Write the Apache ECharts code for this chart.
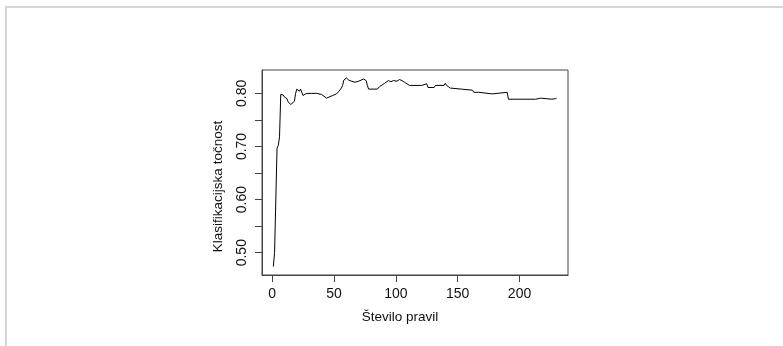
<!DOCTYPE html>
<html>
<head>
<meta charset="utf-8">
<script src="https://cdn.jsdelivr.net/npm/echarts@6.0.0/dist/echarts.min.js"></script>
<style>
  html, body { margin: 0; padding: 0; background: #fff; }
  #chart { width: 783px; height: 346px; }
</style>
</head>
<body>
<div id="chart"></div>
<script>
// Number of rules in the model
const ruleCounts = [
  1, 2, 3, 4, 5, 6, 7, 8, 9, 10, 12, 13, 15, 16, 18, 19, 20, 21, 22, 23, 24, 25, 26, 27, 29,
  32, 36, 40, 41, 44, 45, 46, 47, 49, 52, 54, 56, 57, 58, 60, 62, 64, 67, 70, 72, 74, 76, 77,
  78, 85, 87, 89, 91, 94, 96, 98, 101, 103, 105, 107, 109, 111, 121, 122, 125, 126, 131, 132,
  139, 140, 141, 142, 144, 145, 153, 154, 162, 163, 167, 168, 178, 179, 190, 191, 213, 214,
  217, 218, 226, 227, 229, 230
];
// Classification accuracy for each rule count
const accuracy = [
  0.474, 0.500, 0.501, 0.697, 0.702, 0.718, 0.798, 0.797, 0.797, 0.793, 0.790, 0.784, 0.779,
  0.778, 0.785, 0.800, 0.808, 0.805, 0.804, 0.808, 0.805, 0.796, 0.793, 0.799, 0.800,
  0.800, 0.800, 0.798, 0.796, 0.791, 0.789, 0.793, 0.795, 0.796, 0.799, 0.804, 0.810, 0.815,
  0.825, 0.829, 0.825, 0.823, 0.821, 0.823, 0.825, 0.827, 0.824, 0.815,
  0.808, 0.808, 0.813, 0.816, 0.819, 0.824, 0.822, 0.824, 0.823, 0.826, 0.824, 0.821, 0.818,
  0.815, 0.815, 0.818, 0.818, 0.811, 0.811, 0.815,
  0.815, 0.819, 0.815, 0.813, 0.810, 0.808, 0.808, 0.806, 0.806, 0.802, 0.802, 0.799, 0.799,
  0.802, 0.802, 0.789, 0.789, 0.791,
  0.791, 0.789, 0.789, 0.791, 0.790, 0.791
];
// Axis ticks and labels
const xTicks = [0, 50, 100, 150, 200];
const yTicks = [0.50, 0.55, 0.60, 0.65, 0.70, 0.75, 0.80];
const yLabels = [0.50, 0.60, 0.70, 0.80];

const font = 'Liberation Sans, Arial, Helvetica, sans-serif';
const points = ruleCounts.map((n, i) => [n, accuracy[i]]);

const chart = echarts.init(document.getElementById('chart'), null, { renderer: 'canvas' });
chart.setOption({
  animation: false,
  backgroundColor: '#ffffff',
  graphic: [
    { type: 'rect', shape: { x: 5, y: 6, width: 778, height: 2 }, style: { fill: '#d6d6d6' }, silent: true },
    { type: 'rect', shape: { x: 5, y: 6, width: 2, height: 340 }, style: { fill: '#d6d6d6' }, silent: true }
  ],
  grid: {
    left: 262, top: 70, width: 306, height: 205,
    show: true, borderColor: '#444', borderWidth: 1, backgroundColor: 'transparent'
  },
  xAxis: {
    type: 'value',
    min: -8.16, max: 239.16,
    splitLine: { show: false },
    axisLine: { show: true, onZero: false, lineStyle: { color: '#444', width: 1 } },
    axisTick: { show: true, inside: false, length: 7, customValues: xTicks, lineStyle: { color: '#444' } },
    axisLabel: { customValues: xTicks, margin: 12, fontSize: 14, color: '#111', fontFamily: font },
    name: 'Število pravil',
    nameLocation: 'middle',
    nameGap: 35,
    nameTextStyle: { fontSize: 13.5, color: '#111', fontFamily: font, padding: [0, 30, 0, 0] }
  },
  yAxis: {
    type: 'value',
    min: 0.458, max: 0.844,
    splitLine: { show: false },
    axisLine: { show: true, onZero: false, lineStyle: { color: '#444', width: 1 } },
    axisTick: { show: true, inside: false, length: 7, customValues: yTicks, lineStyle: { color: '#444' } },
    axisLabel: {
      customValues: yLabels, rotate: 90, margin: 13, fontSize: 14, color: '#111', fontFamily: font,
      formatter: v => v.toFixed(2)
    },
    name: 'Klasifikacijska točnost',
    nameLocation: 'middle',
    nameGap: 37,
    nameTextStyle: { fontSize: 13.5, color: '#111', fontFamily: font, padding: [0, 28, 0, 0] }
  },
  series: [{
    type: 'line',
    data: points,
    showSymbol: false,
    lineStyle: { color: '#000', width: 1 }
  }]
});
</script>
</body>
</html>
